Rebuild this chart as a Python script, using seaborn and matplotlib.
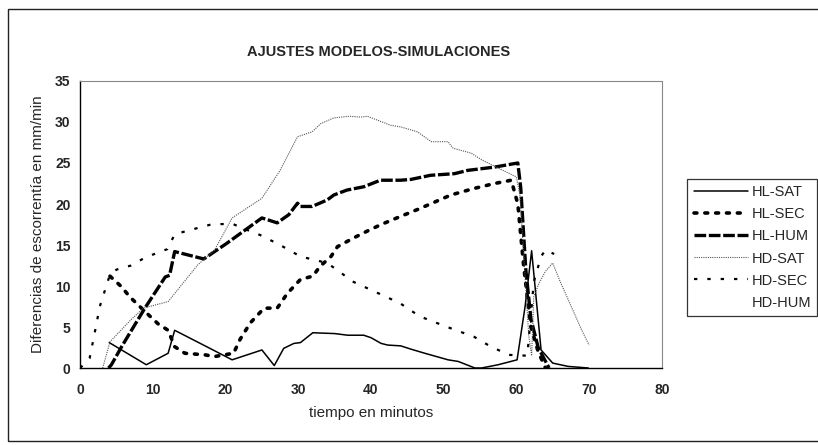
import matplotlib
matplotlib.use('Agg')
import matplotlib.pyplot as plt
from matplotlib.lines import Line2D
from matplotlib.patches import Rectangle
import seaborn as sns

# Data (tiempo en minutos, mm/min)
hl_sat_x = [4, 9.1, 12.1, 13, 17.4, 20.9, 25, 26.7, 28, 29.4, 30.3, 32, 35, 36.8, 39, 40,
            41.4, 42.3, 44.1, 45.5, 47.4, 50.6, 52, 54.3, 55.2, 57.5, 60.1, 61.2, 62.1, 63.4,
            65, 67.1, 69.9]
hl_sat_y = [3.1, 0.4, 1.8, 4.6, 2.6, 1.0, 2.2, 0.3, 2.4, 3.0, 3.1, 4.3, 4.2, 4.0, 4.0, 3.7,
            3.0, 2.8, 2.7, 2.3, 1.8, 1.0, 0.8, 0.0, 0.0, 0.4, 1.0, 7.5, 14.3, 2.2,
            0.6, 0.2, 0.0]

hl_sec_x = [4.1, 5.7, 6.8, 8.9, 10.7, 12.1, 13, 14.4, 17.2, 18.5, 21.1, 22, 23.4, 25.3,
            27.1, 28.5, 30.3, 32, 33, 34.5, 35.4, 37.7, 39.5, 41.4, 44.1, 46.6, 51, 54.2,
            57, 59.3, 60.2, 61, 62, 63, 64]
hl_sec_y = [11.2, 9.9, 8.7, 6.9, 5.4, 4.6, 2.6, 1.8, 1.6, 1.4, 1.8, 3.5, 5.5, 7.3,
            7.3, 9.1, 10.8, 11.2, 12.4, 13.6, 14.8, 15.9, 16.7, 17.5, 18.5, 19.4, 21.1, 21.9,
            22.5, 22.9, 20.0, 12.5, 5.0, 2.0, 0.0]

hl_hum_x = [3.9, 4.3, 5.7, 8.9, 11.7, 12.3, 13, 17, 20, 25, 27.1, 28.7, 29.9, 30.3, 31.9,
            34, 34.9, 36.7, 39, 41.3, 44.1, 45.5, 48.2, 51.5, 53.3, 57, 60.2, 60.6, 61.3,
            62, 63, 64.5]
hl_hum_y = [0.0, 0.4, 2.6, 7.3, 11.1, 11.3, 14.2, 13.3, 15.1, 18.3, 17.7, 18.7, 20.1, 19.7,
            19.7, 20.5, 21.1, 21.7, 22.1, 22.9, 22.9, 23.0, 23.5, 23.7, 24.1, 24.5, 25.0, 22.0,
            12.0, 6.0, 2.5, 0.0]

hd_sat_x = [3.1, 4.1, 7, 8.7, 12.1, 16.2, 18.5, 20.9, 25, 27.5, 29.9, 31.9, 33.1, 34.9, 37,
            38.6, 39.5, 42.7, 44.1, 46.4, 48.3, 50.6, 51.3, 53.8, 55.2, 57, 60, 60.5, 61,
            61.7, 62.1, 62.4, 63.1, 64, 65, 66, 67, 68, 69, 70]
hd_sat_y = [0.0, 3.2, 5.9, 7.3, 8.1, 12.6, 14.4, 18.3, 20.7, 24.1, 28.2, 28.8, 29.8, 30.5, 30.7,
            30.6, 30.7, 29.6, 29.4, 28.8, 27.6, 27.6, 26.8, 26.2, 25.4, 24.6, 23.3, 21.0, 14.0,
            4.0, 1.5, 8.7, 10.3, 11.8, 12.8, 10.6, 8.6, 6.6, 4.6, 2.8]

hd_sec_x = [0, 1.3, 1.8, 2.2, 2.7, 3.2, 4.1, 5, 7, 9, 12, 13, 15, 18, 20.9, 22.5, 24.8,
            27.5, 30.3, 34, 37.6, 41.3, 44, 46.7, 50.5, 54.2, 56.5, 59, 61.5, 62.4, 63.4,
            64, 65.2]
hd_sec_y = [0.0, 1.2, 3.4, 5.2, 7.5, 8.9, 11.4, 12.0, 12.5, 13.5, 14.5, 16.3, 16.8, 17.5,
            17.6, 17.0, 16.2, 15.0, 13.6, 12.8, 10.5, 9.0, 7.9, 6.3, 5.0, 3.8, 2.6, 1.6, 1.5,
            10.5, 13.6, 14.4, 13.9]

series_names = ['HL-SAT', 'HL-SEC', 'HL-HUM', 'HD-SAT', 'HD-SEC', 'HD-HUM']

sns.set_style('white')
plt.rcParams['font.family'] = ['Liberation Sans', 'DejaVu Sans']

fig = plt.figure(figsize=(8.18, 4.45), dpi=100)
ax = fig.add_axes([0.098, 0.173, 0.711, 0.645])

# outer chart frame (right side runs off the picture, as in the scan)
fig.patches.append(Rectangle((0.0098, 0.009), 1.2, 0.971, transform=fig.transFigure,
                             fill=False, edgecolor='#222222', linewidth=1.0))

styles = {
    'HL-SAT': dict(color='black', linewidth=1.1, linestyle='-'),
    'HL-SEC': dict(color='black', linewidth=2.6, linestyle=(0, (0.8, 2.2)), dash_capstyle='round'),
    'HL-HUM': dict(color='black', linewidth=2.4, linestyle=(0, (3.5, 0.8))),
    'HD-SAT': dict(color='#555555', linewidth=0.8, linestyle=(0, (1, 1))),
    'HD-SEC': dict(color='black', linewidth=1.6, linestyle=(0, (1.5, 4.5))),
}
xs = [hl_sat_x, hl_sec_x, hl_hum_x, hd_sat_x, hd_sec_x]
ys = [hl_sat_y, hl_sec_y, hl_hum_y, hd_sat_y, hd_sec_y]

for name, x, y in zip(series_names[:5], xs, ys):
    sns.lineplot(x=x, y=y, ax=ax, legend=False, **styles[name])

ax.set_xlim(0, 80)
ax.set_ylim(0, 35)
ax.set_xticks(range(0, 81, 10))
ax.set_yticks(range(0, 36, 5))
ax.tick_params(axis='x', direction='out', length=4, width=1, labelsize=10, pad=7)
ax.tick_params(axis='y', direction='inout', length=6, width=1, labelsize=10, pad=4)
for lab in ax.get_xticklabels() + ax.get_yticklabels():
    lab.set_fontweight('bold')

for side in ['left', 'bottom']:
    ax.spines[side].set_color('black')
    ax.spines[side].set_linewidth(1.0)
for side in ['top', 'right']:
    ax.spines[side].set_color('#888888')
    ax.spines[side].set_linewidth(0.8)
    ax.spines[side].set_linestyle((0, (1, 1)))

ax.set_xlabel('tiempo en minutos', fontsize=11, labelpad=6)
ax.set_ylabel('Diferencias de escorrentía en mm/min', fontsize=11, labelpad=7)
fig.text(0.463, 0.883, 'AJUSTES MODELOS-SIMULACIONES', ha='center', va='center',
         fontsize=10.5, fontweight='bold')

handles = [Line2D([], [], **styles[n]) for n in series_names[:5]]
handles.append(Line2D([], [], color='white', linewidth=1))
leg = fig.legend(handles, series_names, loc='upper left', bbox_to_anchor=(0.840, 0.598),
                 frameon=True, fancybox=False, edgecolor='black', fontsize=10.5,
                 handlelength=3.7, labelspacing=0.55, borderpad=0.45, handletextpad=0.25,
                 borderaxespad=0)
leg.get_frame().set_linewidth(0.9)

fig.savefig('out.png', dpi=100)
